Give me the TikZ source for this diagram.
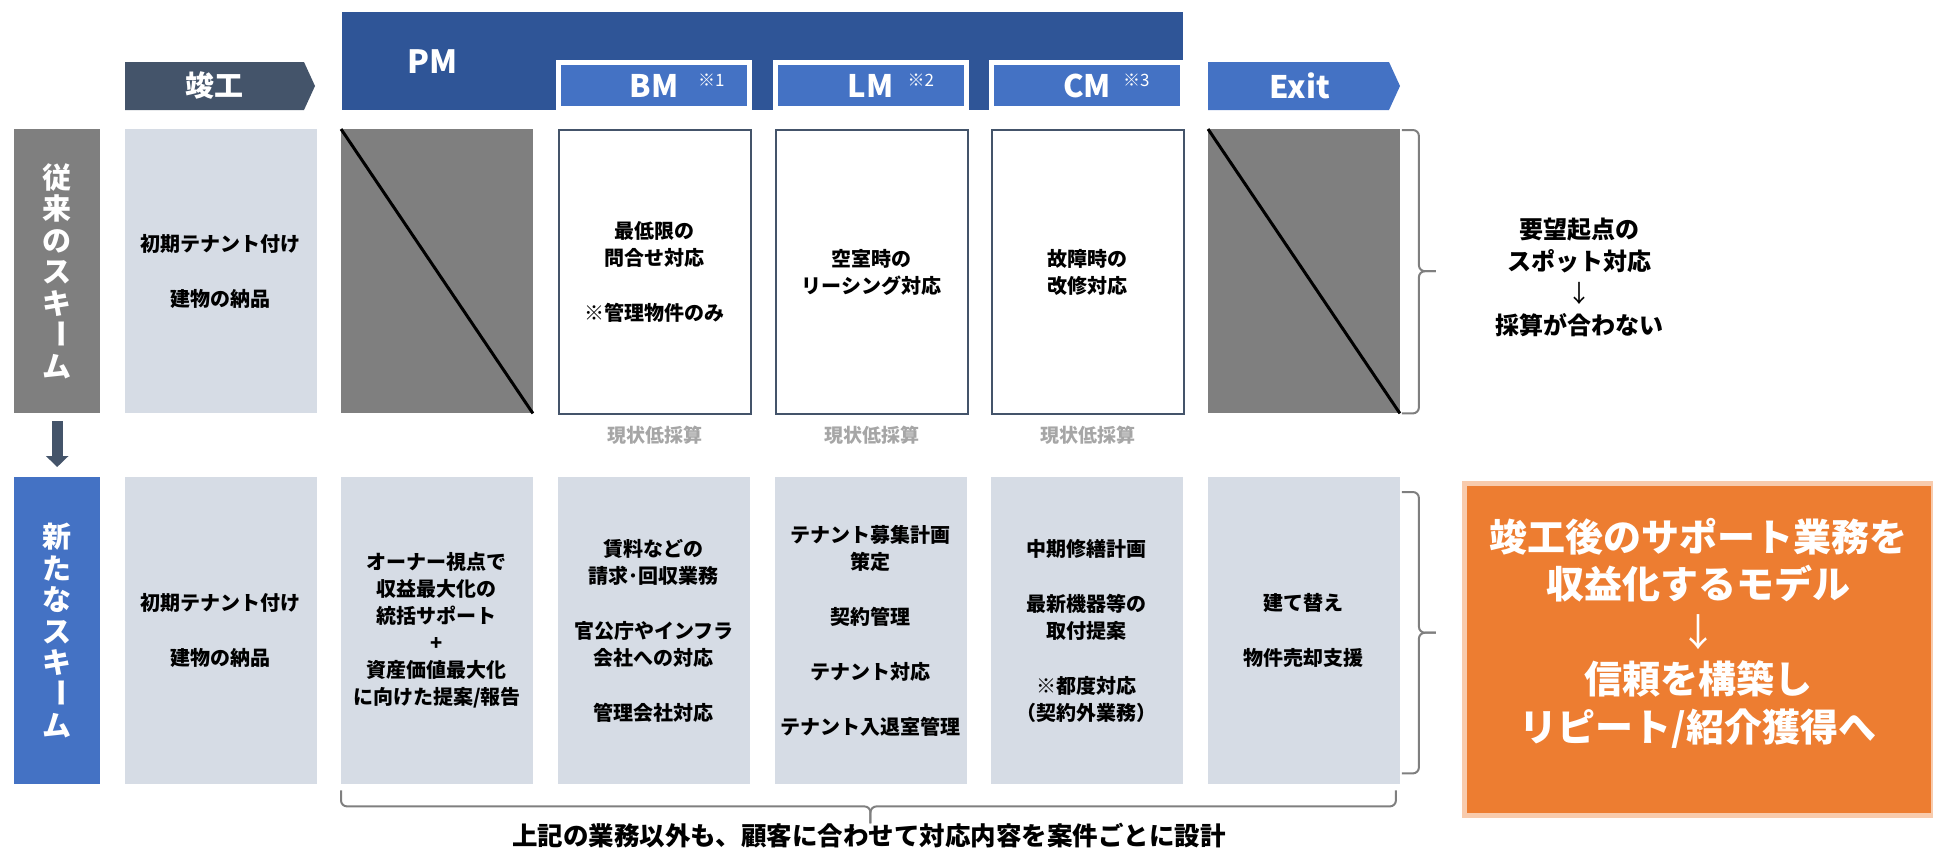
\documentclass[tikz,border=0pt]{standalone}
\usepackage{fontspec}
\setmainfont{Noto Sans CJK JP}[BoldFont={Noto Sans CJK JP Black}]
\usepackage{graphicx}
\usetikzlibrary{arrows.meta,calc}
\definecolor{grayfill}{HTML}{7F7F7F}
\definecolor{lightbox}{HTML}{D6DCE5}
\definecolor{slate}{HTML}{44546A}
\definecolor{pmblue}{HTML}{2F5597}
\definecolor{midblue}{HTML}{4472C4}
\definecolor{orangefill}{HTML}{ED7D31}
\definecolor{orangeedge}{HTML}{F8CBAD}
\definecolor{bracegray}{HTML}{7F7F7F}
\definecolor{notegray}{HTML}{A6A6A6}
\newcommand{\vbar}{\raisebox{0.17em}{\rotatebox[origin=c]{-90}{ー}}}
\newcommand{\thinarrow}{{\mdseries ↓}}
\begin{document}
\begin{tikzpicture}[x=1pt,y=-1pt,
  cell/.style={anchor=north west, minimum width=191.5pt, inner sep=0pt, align=center,
    font=\fontsize{20}{27}\selectfont\bfseries, text=black},
  rowone/.style={cell, minimum height=284pt},
  rowtwo/.style={cell, minimum height=307pt},
  lightcell/.style={fill=lightbox},
  graycell/.style={fill=grayfill},
  whitecell/.style={fill=white, draw=slate, line width=2pt},
  diag/.style={black, line width=3pt},
  sidebar/.style={anchor=north west, minimum width=86pt, inner sep=0pt, align=center, text=white,
    font=\fontsize{29}{31.5}\selectfont\bfseries},
  hdrtext/.style={text=white, inner sep=0pt, font=\fontsize{29}{30}\selectfont\bfseries},
  latinhdr/.style={text=white, inner sep=0pt, font=\fontsize{31}{32}\selectfont\bfseries},
  subhdr/.style={fill=midblue, draw=white, line width=5pt, minimum width=191pt, minimum height=45.5pt, inner sep=0pt},
  refnote/.style={text=white, inner sep=0pt, anchor=west, font=\fontsize{17}{18}\selectfont},
  lowtext/.style={text=notegray, inner sep=0pt, font=\fontsize{19}{20}\selectfont\bfseries},
  bracestyle/.style={draw=bracegray, line width=2pt, rounded corners=6pt},
  sidetext/.style={align=center, inner sep=0pt, font=\fontsize{24}{32}\selectfont\bfseries},
  bigtext/.style={align=center, inner sep=0pt, text=white, font=\fontsize{38}{47.5}\selectfont\bfseries},
  foottext/.style={inner sep=0pt, font=\fontsize{25.5}{27}\selectfont\bfseries}
]
\useasboundingbox (0,0) rectangle (1933,852);

% ---- top headers ----
\fill[slate] (125,62) -- (304,62) -- (315,86) -- (304,110) -- (125,110) -- cycle;
\node[hdrtext] (kanko) at (214.5,86) {竣工};

\node[fill=pmblue, anchor=north west, minimum width=841pt, minimum height=98pt, inner sep=0pt] (pmhead) at (342,12) {};
\node[latinhdr, font=\fontsize{32}{33}\selectfont\bfseries] (pmtext) at (433,62) {PM};

\node[subhdr] (bmh) at (654,85.25) {};
\node[latinhdr] (bmt) at (654,86) {BM};
\node[refnote] (bmn) at ($(bmh.center)+(44,-5)$) {※1};

\node[subhdr] (lmh) at (870.5,85.25) {};
\node[latinhdr] (lmt) at (870.5,86) {LM};
\node[refnote] (lmn) at ($(lmh.center)+(37,-5)$) {※2};

\node[subhdr] (cmh) at (1087,85.25) {};
\node[latinhdr] (cmt) at (1087,86) {CM};
\node[refnote] (cmn) at ($(cmh.center)+(36,-5)$) {※3};

\fill[midblue] (1208,62) -- (1389,62) -- (1400,86) -- (1389,110) -- (1208,110) -- cycle;
\node[latinhdr] (exitt) at (1300,86) {Exit};

% ---- side bars ----
\node[sidebar, fill=grayfill, minimum height=284pt] (oldbar) at (14,129) {従\\来\\の\\ス\\キ\\\vbar\\ム};
\node[sidebar, fill=midblue, minimum height=307pt] (newbar) at (14,477) {新\\た\\な\\ス\\キ\\\vbar\\ム};
\draw[slate, line width=11pt, -{Triangle[length=11pt, width=22pt]}, shorten <=8pt, shorten >=10pt] (oldbar.south) -- (newbar.north);

% ---- row 1 ----
\node[rowone, lightcell] (ca) at (125,129) {初期テナント付け\\[28pt]建物の納品};
\node[rowone, graycell] (pma) at (341,129) {};
\draw[diag] (pma.north west) -- (pma.south east);
\node[rowone, whitecell] (bma) at (558,129) {最低限の\\問合せ対応\\[28pt]※管理物件のみ};
\node[rowone, whitecell] (lma) at (775,129) {空室時の\\リーシング対応};
\node[rowone, whitecell] (cma) at (991,129) {故障時の\\改修対応};
\node[rowone, graycell] (exa) at (1208,129) {};
\draw[diag] (exa.north west) -- (exa.south east);

\node[lowtext] (bmlow) at ($(bma.south)+(0,20)$) {現状低採算};
\node[lowtext] (lmlow) at ($(lma.south)+(0,20)$) {現状低採算};
\node[lowtext] (cmlow) at ($(cma.south)+(0,20)$) {現状低採算};

% ---- row 2 ----
\node[rowtwo, lightcell] (cb) at (125,477) {初期テナント付け\\[28pt]建物の納品};
\node[rowtwo, lightcell] (pmb) at (341,477) {オーナー視点で\\収益最大化の\\統括サポート\\+\\資産価値最大化\\に向けた提案/報告};
\node[rowtwo, lightcell] (bmb) at (558,477) {賃料などの\\請求･回収業務\\[28pt]官公庁やインフラ\\会社への対応\\[28pt]管理会社対応};
\node[rowtwo, lightcell] (lmb) at (775,477) {テナント募集計画\\策定\\[28pt]契約管理\\[28pt]テナント対応\\[28pt]テナント入退室管理};
\node[rowtwo, lightcell] (cmb) at (991,477) {中期修繕計画\\[28pt]最新機器等の\\取付提案\\[28pt]※都度対応\\（契約外業務）};
\node[rowtwo, lightcell] (exb) at (1208,477) {建て替え\\[28pt]物件売却支援};

% ---- right braces ----
\coordinate (bat) at ($(exa.north east)+(2,1)$);
\coordinate (bab) at ($(exa.south east)+(2,0)$);
\coordinate (bam) at ($(exa.east)+(36,0)$);
\draw[bracestyle] (bat) -| ($(bam)+(-17,0)$) -- (bam);
\draw[bracestyle] (bab) -| ($(bam)+(-17,0)$) -- (bam);

\coordinate (bbt) at ($(exb.north east)+(2,15)$);
\coordinate (bbb) at ($(exb.south east)+(2,-11)$);
\coordinate (bbm) at ($(exb.east)+(36,2)$);
\draw[bracestyle] (bbt) -| ($(bbm)+(-17,0)$) -- (bbm);
\draw[bracestyle] (bbb) -| ($(bbm)+(-17,0)$) -- (bbm);

% ---- bottom brace ----
\coordinate (btl) at ($(pmb.south west)+(0,6)$);
\coordinate (btr) at ($(exb.south east)+(-4,6)$);
\coordinate (btm) at ($(pmb.south west)!0.5!(exb.south east)+(0,39)$);
\draw[bracestyle] (btl) |- ($(btm)+(0,-17)$) -- (btm);
\draw[bracestyle] (btr) |- ($(btm)+(0,-17)$) -- (btm);

\node[foottext] (foot) at (869,836) {上記の業務以外も、顧客に合わせて対応内容を案件ごとに設計};

% ---- right texts ----
\node[sidetext] (spot) at (1579,277.5) {要望起点の\\スポット対応\\\thinarrow\\採算が合わない};

\node[fill=orangefill, draw=orangeedge, line width=5pt, anchor=north west, minimum width=469pt, minimum height=332pt, inner sep=0pt] (model) at (1461.5,480.5) {};
\node[bigtext] (modeltext) at (1698,633) {竣工後のサポート業務を\\収益化するモデル\\\thinarrow\\信頼を構築し\\リピート/紹介獲得へ};
\end{tikzpicture}
\end{document}
